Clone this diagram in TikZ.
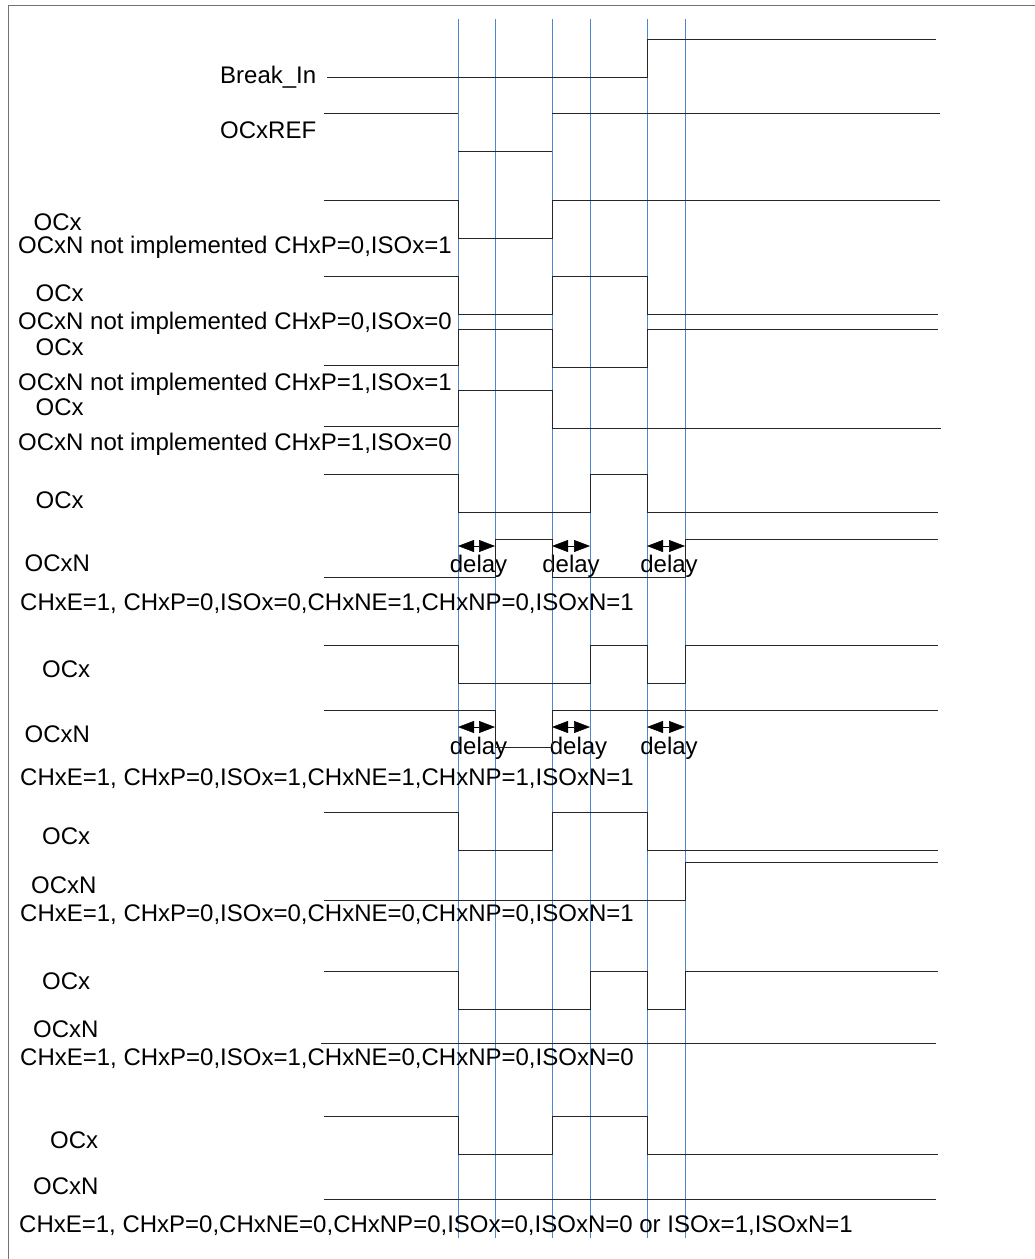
\documentclass[tikz,border=0pt]{standalone}
\usepackage{fontspec}
\setmainfont{Liberation Sans}
\usetikzlibrary{arrows, arrows.meta}
\definecolor{markblue}{HTML}{4F86D0}
\tikzset{
	lbl/.style={anchor=base west, inner sep=0pt, font=\fontsize{24}{28}\selectfont},
	dlbl/.style={anchor=base, inner sep=0pt, font=\fontsize{24}{28}\selectfont},
	wave/.style={line width=0.95pt, black!85},
	mark line/.style={line width=0.7pt, markblue},
	frame line/.style={line width=1pt, black!55},
	dly/.style={line width=0.5pt, >={Triangle[length=16pt,width=12pt]}, <->}
}

\begin{document}
\begin{tikzpicture}[x=1pt,y=-1pt]
			\useasboundingbox (0,0) rectangle (1035,1259);
			
			\draw[frame line] (8.3,1259) -- (8.3,5) -- (1035,5);
			
			\draw[mark line] (458,19) -- (458,1238);
			\draw[mark line] (495,19) -- (495,1238);
			\draw[mark line] (552,19) -- (552,1238);
			\draw[mark line] (590,19) -- (590,1238);
			\draw[mark line] (647,19) -- (647,1238);
			\draw[mark line] (685,19) -- (685,1238);
			
			\draw(220,83) node[lbl] (breakin) {Break\_In};
			\draw(220,138) node[lbl] (ocxref) {OCxREF};
			\draw(33.5,230) node[lbl] (oa) {OCx};
			\draw(18,253) node[lbl] (na) {OCxN not implemented CHxP=0,ISOx=1};
			\draw(35.5,301.7) node[lbl] (ob) {OCx};
			\draw(18,329) node[lbl] (nb) {OCxN not implemented CHxP=0,ISOx=0};
			\draw(35.5,355.3) node[lbl] (oc) {OCx};
			\draw(18,390) node[lbl] (nc) {OCxN not implemented CHxP=1,ISOx=1};
			\draw(35.5,415.7) node[lbl] (od) {OCx};
			\draw(18,450) node[lbl] (nd) {OCxN not implemented CHxP=1,ISOx=0};
			\draw(35.5,508) node[lbl] (oe) {OCx};
			\draw(24.5,571.7) node[lbl] (ne) {OCxN};
			\draw(20,610) node[lbl] (ce) {CHxE=1, CHxP=0,ISOx=0,CHxNE=1,CHxNP=0,ISOxN=1};
			\draw(42,677.3) node[lbl] (of) {OCx};
			\draw(24.5,742.3) node[lbl] (nf) {OCxN};
			\draw(20,785) node[lbl] (cf) {CHxE=1, CHxP=0,ISOx=1,CHxNE=1,CHxNP=1,ISOxN=1};
			\draw(42,844) node[lbl] (og) {OCx};
			\draw(31,893) node[lbl] (ng) {OCxN};
			\draw(20,921.5) node[lbl] (cg) {CHxE=1, CHxP=0,ISOx=0,CHxNE=0,CHxNP=0,ISOxN=1};
			\draw(42,989.3) node[lbl] (oh) {OCx};
			\draw(33,1037.5) node[lbl] (nh) {OCxN};
			\draw(20,1065) node[lbl] (ch) {CHxE=1, CHxP=0,ISOx=1,CHxNE=0,CHxNP=0,ISOxN=0};
			\draw(50,1148.3) node[lbl] (oi) {OCx};
			\draw(33,1194) node[lbl] (ni) {OCxN};
			\draw(19,1232.5) node[lbl] (ci) {CHxE=1, CHxP=0,CHxNE=0,CHxNP=0,ISOx=0,ISOxN=0 or ISOx=1,ISOxN=1};
			
			\draw(478.5,572.5) node[dlbl] (da) {delay};
			\draw(571,572.5) node[dlbl] (db) {delay};
			\draw(669,572.5) node[dlbl] (dc) {delay};
			\draw(478.5,754.5) node[dlbl] (dd) {delay};
			\draw(578.5,754.5) node[dlbl] (de) {delay};
			\draw(669,754.5) node[dlbl] (df) {delay};
			
			\draw[dly] (458,546) -- (495,546);
			\draw[dly] (552,546) -- (590,546);
			\draw[dly] (647,546) -- (685,546);
			\draw[dly] (458,727) -- (495,727);
			\draw[dly] (552,727) -- (590,727);
			\draw[dly] (647,727) -- (685,727);
			
			\draw[wave] (327,77.7) -- (647,77.7) -- (647,39.7) -- (936,39.7);
			\draw[wave] (324,113) -- (458,113);
			\draw[wave] (458,151) -- (552,151);
			\draw[wave] (552,113) -- (940,113);
			\draw[wave] (324,200) -- (458,200) -- (458,238) -- (552,238) -- (552,200) -- (940,200);
			\draw[wave] (324,276) -- (458,276) -- (458,314) -- (552,314) -- (552,276) -- (647,276) -- (647,314) -- (938,314);
			\draw[wave] (324,365) -- (458,365) -- (458,329) -- (552,329) -- (552,367) -- (647,367) -- (647,329) -- (938,329);
			\draw[wave] (324,426) -- (458,426) -- (458,390) -- (552,390) -- (552,428) -- (941,428);
			\draw[wave] (324,474.7) -- (458,474.7) -- (458,512.7) -- (590,512.7) -- (590,474.7) -- (647,474.7) -- (647,512.7) -- (938,512.7);
			\draw[wave] (324,577.3) -- (495,577.3) -- (495,539.3) -- (552,539.3) -- (552,577.3) -- (685,577.3) -- (685,539.3) -- (938,539.3);
			\draw[wave] (324,645.3) -- (458,645.3) -- (458,683.3) -- (590,683.3) -- (590,645.3) -- (647,645.3) -- (647,683.3) -- (685,683.3) -- (685,645.3) -- (938,645.3);
			\draw[wave] (324,710) -- (495,710) -- (495,747.7) -- (552,747.7) -- (552,710) -- (938,710);
			\draw[wave] (324,812.3) -- (458,812.3) -- (458,850.3) -- (552,850.3) -- (552,812.3) -- (647,812.3) -- (647,850.3) -- (938,850.3);
			\draw[wave] (324,900) -- (685,900) -- (685,862.3) -- (938,862.3);
			\draw[wave] (324,971.7) -- (458,971.7) -- (458,1009.7) -- (590,1009.7) -- (590,971.7) -- (647,971.7) -- (647,1009.7) -- (685,1009.7) -- (685,971.7) -- (938,971.7);
			\draw[wave] (321,1043.7) -- (936,1043.7);
			\draw[wave] (324,1116) -- (458,1116) -- (458,1154) -- (552,1154) -- (552,1116) -- (647,1116) -- (647,1154) -- (938,1154);
			\draw[wave] (324,1199.7) -- (936,1199.7);
		\end{tikzpicture}
\end{document}
